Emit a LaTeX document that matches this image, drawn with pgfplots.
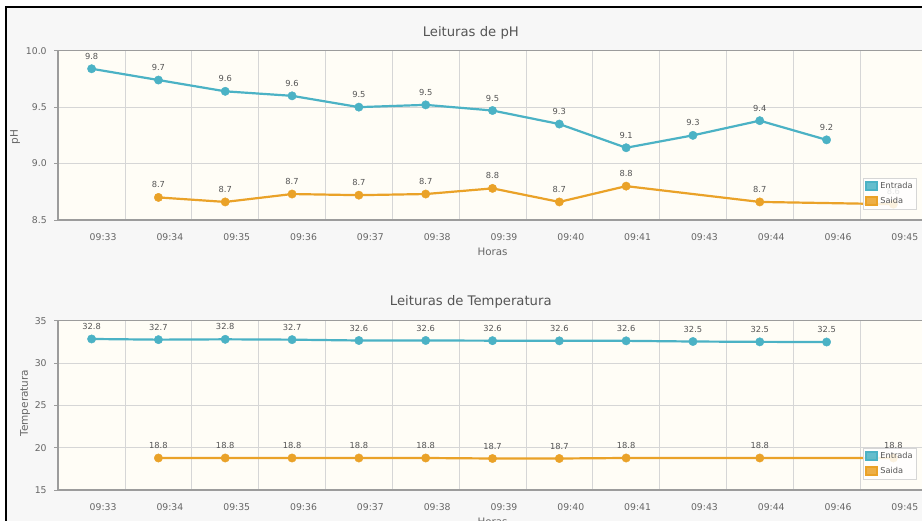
\documentclass[border=0pt]{standalone}
\usepackage{fontspec}
\setmainfont{DejaVu Sans}
\usepackage{pgfplots}
\pgfplotsset{compat=1.18}

\definecolor{cEnt}{HTML}{4BB2C5}
\definecolor{cSai}{HTML}{EAA228}
\definecolor{pagebg}{HTML}{F7F7F7}
\definecolor{plotbg}{HTML}{FFFDF6}
\definecolor{gridc}{HTML}{D6D6D6}
\definecolor{bordc}{HTML}{9C9C9C}
\definecolor{txt}{HTML}{666666}
\definecolor{ttl}{HTML}{555555}

\pgfplotsset{
  jq/.style={
    scale only axis, width=868.6pt, height=169.3pt,
    xmin=-0.5, xmax=12.5,
    xtick={0,...,12},
    xticklabels={09:33,09:34,09:35,09:36,09:37,09:38,09:39,09:40,09:41,09:43,09:44,09:46,09:45},
    minor xtick={-0.5,0.5,...,12.5},
    xminorgrids=true, ymajorgrids=true,
    grid style={gridc, line width=0.8pt},
    minor grid style={gridc, line width=0.8pt},
    axis background/.style={fill=plotbg},
    axis line style={bordc, line width=1.6pt},
    tick pos=left, tick align=outside,
    major tick length=4pt, minor tick length=4pt,
    xtick style={draw=none},
    minor x tick style={bordc, line width=0.8pt},
    ytick style={bordc, line width=0.8pt},
    /pgf/number format/assume math mode=true,
    tick label style={font=\fontsize{9.3}{11}\selectfont, text=txt},
    xticklabel style={anchor=center, xshift=11.5pt, yshift=-13pt},
    yticklabel style={xshift=-4pt},
    title style={font=\fontsize{13.2}{15}\selectfont, text=ttl, anchor=center, at={(0.475,1)}},
    xlabel style={font=\fontsize{10.3}{12}\selectfont, text=txt, anchor=center, at={(0.5,0)}, yshift=-32pt},
    ylabel style={font=\fontsize{10.5}{12}\selectfont, text=txt, anchor=center},
    xlabel={Horas},
    point meta=explicit symbolic,
    nodes near coords,
    every node near coord/.append style={font=\fontsize{8.3}{9}\selectfont, text=ttl, anchor=center, yshift=12.5pt},
    legend style={at={(0.9266,0.065)}, anchor=south west, draw=gridc, fill=white,
      fill opacity=0.85, text opacity=1, font=\fontsize{8.2}{10}\selectfont, text=ttl,
      inner sep=2pt, row sep=3pt, cells={anchor=west}},
    legend cell align=left,
  },
  ent/.style={cEnt, line width=2.2pt, mark=*, mark size=4.2pt, mark options={solid, fill=cEnt, draw=cEnt, line width=0.4pt},
    legend image code/.code={\fill[cEnt] (0pt,-4pt) rectangle (11pt,4pt);}},
  sai/.style={cSai, line width=2.2pt, mark=*, mark size=4.2pt, mark options={solid, fill=cSai, draw=cSai, line width=0.4pt},
    legend image code/.code={\fill[cSai] (0pt,-4pt) rectangle (11pt,4pt);}},
}

\begin{document}
\begin{tikzpicture}
\useasboundingbox (0,0) rectangle (922pt,521pt);
\clip (0,0) rectangle (922pt,521pt);
\fill[white] (0,0) rectangle (922pt,521pt);
\fill[pagebg] (6pt,0) rectangle (922pt,514pt);
\draw[black, line width=2pt] (6pt,0) -- (6pt,514pt) -- (922pt,514pt);

% pH
\begin{axis}[jq, at={(58.2pt,301pt)}, anchor=south west,
  ymin=8.5, ymax=10, ytick={8.5,9,9.5,10},
  yticklabel style={/pgf/number format/fixed, /pgf/number format/fixed zerofill, /pgf/number format/precision=1},
  title={Leituras de pH}, title style={yshift=11.7pt},
  ylabel={pH}, ylabel style={at={(-0.0497,0.49)}}]
\addplot[ent] coordinates {
  (0,9.84) [9.8] (1,9.74) [9.7] (2,9.64) [9.6] (3,9.60) [9.6] (4,9.50) [9.5] (5,9.52) [9.5]
  (6,9.47) [9.5] (7,9.35) [9.3] (8,9.14) [9.1] (9,9.25) [9.3] (10,9.38) [9.4] (11,9.21) [9.2]};
\addplot[sai] coordinates {
  (1,8.70) [8.7] (2,8.66) [8.7] (3,8.73) [8.7] (4,8.72) [8.7] (5,8.73) [8.7]
  (6,8.78) [8.8] (7,8.66) [8.7] (8,8.80) [8.8] (10,8.66) [8.7] (12,8.64) [8.6]};
\legend{Entrada,Saida}
\end{axis}

% Temperatura
\begin{axis}[jq, at={(58.2pt,31pt)}, anchor=south west,
  ymin=15, ymax=35, ytick={15,20,25,30,35},
  title={Leituras de Temperatura}, title style={yshift=12.7pt},
  ylabel={Temperatura}, ylabel style={at={(-0.0382,0.514)}}]
\addplot[ent] coordinates {
  (0,32.84) [32.8] (1,32.76) [32.7] (2,32.80) [32.8] (3,32.76) [32.7] (4,32.66) [32.6] (5,32.66) [32.6]
  (6,32.64) [32.6] (7,32.62) [32.6] (8,32.62) [32.6] (9,32.54) [32.5] (10,32.50) [32.5] (11,32.48) [32.5]};
\addplot[sai] coordinates {
  (1,18.78) [18.8] (2,18.78) [18.8] (3,18.78) [18.8] (4,18.78) [18.8] (5,18.78) [18.8]
  (6,18.72) [18.7] (7,18.72) [18.7] (8,18.78) [18.8] (10,18.78) [18.8] (12,18.78) [18.8]};
\legend{Entrada,Saida}
\end{axis}
\end{tikzpicture}
\end{document}
